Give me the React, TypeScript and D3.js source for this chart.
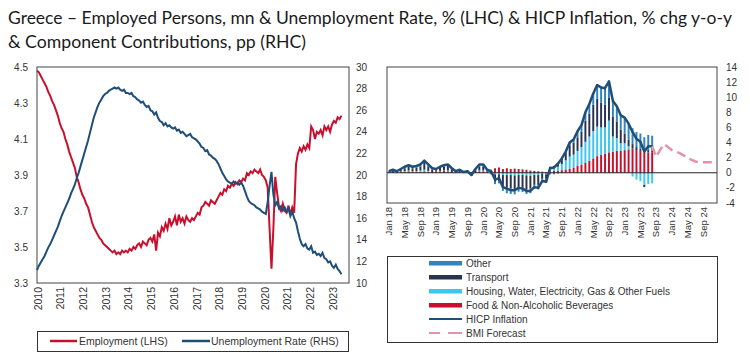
import React from "react";
import * as d3 from "d3";

// ---- left chart data (monthly, Jan 2010 - Jun 2023) ----
const yearLabels = ["2010","2011","2012","2013","2014","2015","2016","2017","2018","2019","2020","2021","2022","2023"];

const employment = [
  4.48, 4.47, 4.45, 4.43, 4.41, 4.39, 4.36, 4.34, 4.31, 4.29, 4.26, 4.23,
  4.19, 4.16, 4.14, 4.10, 4.07, 4.03, 4.00, 3.97, 3.94, 3.89, 3.86, 3.82,
  3.79, 3.77, 3.74, 3.72, 3.68, 3.64, 3.61, 3.59, 3.57, 3.55, 3.54, 3.52,
  3.51, 3.50, 3.49, 3.48, 3.47, 3.48, 3.46, 3.47, 3.46, 3.48, 3.47, 3.48,
  3.47, 3.49, 3.48, 3.50, 3.49, 3.51, 3.52, 3.50, 3.53, 3.52, 3.51, 3.54,
  3.55, 3.53, 3.57, 3.48, 3.58, 3.56, 3.61, 3.59, 3.63, 3.60, 3.66, 3.62,
  3.64, 3.67, 3.62, 3.68, 3.64, 3.66, 3.63, 3.67, 3.65, 3.64, 3.66, 3.65,
  3.67, 3.69, 3.68, 3.72, 3.73, 3.75, 3.74, 3.73, 3.76, 3.75, 3.74, 3.76,
  3.78, 3.80, 3.79, 3.82, 3.81, 3.84, 3.83, 3.85, 3.84, 3.86, 3.85, 3.87,
  3.86, 3.88, 3.87, 3.91, 3.90, 3.92, 3.91, 3.93, 3.92, 3.91, 3.93, 3.90,
  3.89, 3.87, 3.83, 3.60, 3.38, 3.60, 3.89, 3.80, 3.72, 3.70, 3.74, 3.70,
  3.69, 3.73, 3.68, 3.72, 3.69, 3.96, 4.02, 4.05, 4.03, 4.06, 4.04, 4.07,
  4.05, 4.17, 4.15, 4.10, 4.14, 4.13, 4.15, 4.12, 4.17, 4.15, 4.17, 4.14,
  4.18, 4.20, 4.19, 4.22, 4.21, 4.23,
];

const unemployment = [
  11.2, 11.6, 11.9, 12.2, 12.5, 12.9, 13.3, 13.6, 14.0, 14.4, 14.8, 15.2,
  15.7, 16.2, 16.6, 17.0, 17.4, 17.8, 18.3, 18.7, 19.1, 19.7, 20.2, 20.8,
  21.4, 22.0, 22.6, 23.2, 23.9, 24.6, 25.3, 25.8, 26.3, 26.7, 27.0, 27.3,
  27.5, 27.6, 27.8, 27.9, 28.0, 28.1, 28.0, 28.1, 27.9, 27.8, 27.9, 27.6,
  27.6, 27.5, 27.6, 27.3, 27.2, 27.0, 26.9, 26.7, 26.8, 26.5, 26.3, 26.4,
  26.0, 25.9, 25.6, 25.8, 25.3, 25.0, 24.9, 24.6, 24.8, 24.5, 24.6, 24.4,
  24.3, 24.4, 24.1, 24.2, 23.9, 24.0, 23.8, 23.6, 23.7, 23.8, 23.5, 23.4,
  23.3, 23.1, 22.9, 22.6, 22.5, 22.2, 22.3, 21.9, 21.8, 21.6, 21.5, 21.3,
  21.0, 20.6, 20.2, 19.9, 19.6, 19.4, 19.3, 19.2, 19.4, 19.2, 19.3, 19.1,
  19.3, 19.0, 18.5, 18.0, 17.6, 17.4, 17.3, 17.2, 17.0, 16.9, 16.8, 16.6,
  16.5, 16.4, 17.5, 19.0, 20.3, 18.2, 17.2, 17.5, 16.9, 17.1, 16.7, 17.0,
  16.6, 16.9, 16.2, 16.6, 16.0, 15.6, 14.8, 14.1, 13.6, 13.4, 13.6, 13.2,
  13.1, 13.4, 12.8, 12.9, 12.6, 12.7, 12.5, 12.8, 12.3, 12.2, 11.9, 12.0,
  11.6, 11.4, 11.7, 11.3, 11.1, 10.8,
];

// ---- right chart data (monthly, Jan 18 - Aug 23, forecast to Dec 24) ----
const monthNames = ["Jan","Feb","Mar","Apr","May","Jun","Jul","Aug","Sep","Oct","Nov","Dec"];
const rhcYears = ["18","19","20","21","22","23","24"];
const categories = rhcYears.flatMap((y) => monthNames.map((m) => `${m} ${y}`));

const hicp = [
  0.2, 0.4, 0.2, 0.5, 0.8, 1.0, 0.8, 0.9, 1.1, 1.6, 1.1, 0.6,
  0.5, 0.8, 1.0, 1.1, 0.6, 0.2, 0.4, 0.1, 0.2, -0.3, 0.5, 1.1,
  1.1, 0.4, 0.2, -0.9, -0.7, -1.9, -2.1, -2.3, -2.3, -2.0, -2.1, -2.4,
  -2.4, -1.9, -2.0, -1.1, -1.2, 0.6, 0.7, 1.2, 1.9, 2.8, 4.0, 4.4,
  5.5, 6.3, 8.0, 9.1, 10.5, 11.6, 11.3, 11.2, 12.1, 9.5, 8.8, 7.6,
  7.3, 6.5, 5.4, 4.5, 4.1, 2.8, 3.5, 3.5,
];
const food = [
  0.05, 0.1, 0.05, 0.1, 0.15, 0.2, 0.15, 0.1, 0.15, 0.2, 0.15, 0.1,
  0.15, 0.2, 0.25, 0.2, 0.1, 0.05, 0.1, 0.05, 0.05, -0.05, 0.1, 0.2,
  0.2, 0.15, 0.2, 0.6, 0.7, 0.5, 0.6, 0.5, 0.55, 0.5, 0.45, 0.4,
  0.3, 0.25, 0.2, 0.15, 0.1, 0.2, 0.25, 0.3, 0.35, 0.45, 0.55, 0.7,
  0.9, 1.1, 1.3, 1.6, 1.9, 2.2, 2.4, 2.5, 2.7, 2.8, 2.9, 2.9,
  3.0, 3.1, 3.2, 3.0, 2.9, 2.8, 2.7, 2.7,
];
const housing = [
  -0.05, 0.0, -0.05, 0.05, 0.05, 0.1, 0.05, 0.1, 0.15, 0.2, 0.1, 0.0,
  0.0, 0.05, 0.05, 0.1, 0.0, -0.05, 0.0, -0.05, -0.05, -0.1, 0.0, 0.1,
  0.1, 0.0, -0.05, -0.2, -0.2, -0.3, -0.3, -0.3, -0.35, -0.3, -0.3, -0.35,
  -0.4, -0.3, -0.3, -0.1, -0.2, 0.3, 0.35, 0.5, 0.8, 1.2, 1.6, 1.7,
  2.0, 2.3, 2.8, 3.2, 3.6, 3.9, 3.6, 3.5, 4.2, 2.0, 1.7, 1.0,
  0.9, 0.4, -0.5, -0.9, -1.1, -1.6, -1.5, -1.4,
];
const transport = [
  0.1, 0.2, 0.1, 0.25, 0.4, 0.5, 0.4, 0.45, 0.55, 0.9, 0.6, 0.3,
  0.2, 0.4, 0.5, 0.6, 0.35, 0.1, 0.2, 0.0, 0.1, -0.25, 0.25, 0.55,
  0.55, 0.1, -0.15, -1.0, -0.9, -1.5, -1.7, -1.8, -1.8, -1.6, -1.7, -1.8,
  -1.7, -1.3, -1.3, -0.7, -0.6, 0.3, 0.3, 0.5, 0.7, 1.0, 1.5, 1.6,
  1.8, 2.0, 2.8, 3.0, 3.5, 3.7, 3.3, 3.0, 3.0, 2.6, 2.2, 1.8,
  1.3, 0.9, 0.6, 0.4, 0.3, -0.3, 0.3, 0.2,
];
const other = [
  0.1, 0.1, 0.1, 0.1, 0.2, 0.2, 0.2, 0.25, 0.25, 0.3, 0.25, 0.2,
  0.15, 0.15, 0.2, 0.2, 0.15, 0.1, 0.1, 0.1, 0.1, 0.1, 0.15, 0.25,
  0.25, 0.15, 0.2, -0.3, -0.3, -0.6, -0.7, -0.7, -0.7, -0.6, -0.55, -0.65,
  -0.6, -0.55, -0.6, -0.45, -0.5, -0.2, -0.2, -0.1, 0.05, 0.15, 0.35, 0.4,
  0.8, 0.9, 1.1, 1.3, 1.5, 1.8, 2.0, 2.2, 2.2, 2.1, 2.0, 1.9,
  2.1, 2.1, 2.1, 2.0, 2.0, 1.9, 2.0, 2.0,
];
// BMI forecast, Aug 23 - Dec 24
const forecastStart = 67;
const forecast = [3.5, 2.1, 3.0, 3.8, 3.4, 3.0, 2.8, 2.6, 2.3, 2.0, 1.7, 1.5, 1.4, 1.4, 1.4, 1.4, 1.4];

const RED = "#c8102e";
const NAVY = "#1f4e79";
const compKeys = ["food", "housing", "transport", "other"];
const compColors: Record<string, string> = {
  food: "#c8102e",
  housing: "#3cc6f0",
  transport: "#2a3350",
  other: "#2f83bf",
};

const AXIS_FONT = "'Liberation Sans', Arial, sans-serif";

export default function App() {
  // left chart scales
  const xL = d3.scaleLinear().domain([0, 165]).range([37, 349]);
  const yEmp = d3.scaleLinear().domain([3.3, 4.5]).range([283, 67]);
  const yUn = d3.scaleLinear().domain([10, 30]).range([283, 67]);
  const empTicks = d3.range(3.3, 4.51, 0.2);
  const unTicks = d3.range(10, 30.1, 2);

  const empLine = d3.line<number>().x((_, i) => xL(i)).y((d) => yEmp(d));
  const unLine = d3.line<number>().x((_, i) => xL(i)).y((d) => yUn(d));

  // right chart scales
  const xB = d3.scaleBand<string>().domain(categories).range([387, 717]).paddingInner(0.5).paddingOuter(0.25);
  const yB = d3.scaleLinear().domain([-4, 14]).range([203, 67]);
  const bTicks = d3.range(-4, 14.1, 2);
  const cx = (i: number) => (xB(categories[i]) ?? 0) + xB.bandwidth() / 2;

  const rows = hicp.map((_, i) => ({
    food: food[i], housing: housing[i], transport: transport[i], other: other[i],
  }));
  const stacked = d3.stack<any>().keys(compKeys).offset(d3.stackOffsetDiverging)(rows);

  const hicpLine = d3.line<number>().x((_, i) => cx(i)).y((d) => yB(d));
  const fcLine = d3.line<number>().x((_, i) => cx(i + forecastStart)).y((d) => yB(d));

  const rightLegend = [
    { label: "Other", kind: "bar", color: compColors.other },
    { label: "Transport", kind: "bar", color: compColors.transport },
    { label: "Housing, Water, Electricity, Gas & Other Fuels", kind: "bar", color: compColors.housing },
    { label: "Food & Non-Alcoholic Beverages", kind: "bar", color: compColors.food },
    { label: "HICP Inflation", kind: "line", color: NAVY },
    { label: "BMI Forecast", kind: "dash", color: "#e393aa" },
  ];

  return (
    <svg width={750} height={359} style={{ position: "absolute", left: 0, top: 0, background: "#fff" }}>
      {/* title */}
      <g fontFamily="Lato, sans-serif" fontSize={17} fill="#1a1a1a">
        <text x={8} y={24} textLength={724} lengthAdjust="spacingAndGlyphs">
          Greece – Employed Persons, mn &amp; Unemployment Rate, % (LHC) &amp; HICP Inflation, % chg y-o-y
        </text>
        <text x={8} y={48} textLength={298} lengthAdjust="spacingAndGlyphs">
          &amp; Component Contributions, pp (RHC)
        </text>
      </g>

      {/* ---- left chart ---- */}
      <g fontFamily={AXIS_FONT} fontSize={10} fill="#333">
        {empTicks.map((t) => (
          <text key={"e" + t} x={28} y={yEmp(t)} dy="0.35em" textAnchor="end">{t.toFixed(1)}</text>
        ))}
        {unTicks.map((t) => (
          <text key={"u" + t} x={356} y={yUn(t)} dy="0.35em">{t}</text>
        ))}
        {yearLabels.map((y, i) => (
          <text key={y} transform={`translate(${xL(i * 12) + 1},287) rotate(-90)`} dy="0.35em" textAnchor="end" fontSize={10.5}>{y}</text>
        ))}
      </g>
      <path d={empLine(employment) ?? ""} fill="none" stroke={RED} strokeWidth={2} />
      <path d={unLine(unemployment) ?? ""} fill="none" stroke={NAVY} strokeWidth={2} />
      <rect x={37} y={67} width={312} height={216} fill="none" stroke="#444" strokeWidth={1} />

      {/* left legend */}
      <rect x={37.5} y={331.5} width={311} height={20} fill="none" stroke="#333" strokeWidth={1} />
      <g fontFamily={AXIS_FONT} fontSize={10.5} fill="#333">
        <line x1={50} x2={77} y1={341} y2={341} stroke={RED} strokeWidth={2.5} />
        <text x={79} y={341} dy="0.35em">Employment (LHS)</text>
        <line x1={182} x2={210} y1={341} y2={341} stroke={NAVY} strokeWidth={2.5} />
        <text x={211} y={341} dy="0.35em">Unemployment Rate (RHS)</text>
      </g>

      {/* ---- right chart ---- */}
      {stacked.map((s) => (
        <g key={s.key} fill={compColors[s.key]}>
          {s.map((d, i) => (
            <rect
              key={i}
              x={xB(categories[i])}
              width={xB.bandwidth()}
              y={yB(Math.max(d[0], d[1]))}
              height={Math.abs(yB(d[0]) - yB(d[1]))}
            />
          ))}
        </g>
      ))}
      <line x1={387} x2={717} y1={yB(0)} y2={yB(0)} stroke="#222" strokeWidth={1} />
      <path d={hicpLine(hicp) ?? ""} fill="none" stroke={NAVY} strokeWidth={2.5} strokeLinejoin="round" />
      <path d={fcLine(forecast) ?? ""} fill="none" stroke="#e393aa" strokeWidth={2.5} strokeDasharray="9 5" />
      <rect x={387} y={67} width={330} height={136} fill="none" stroke="#444" strokeWidth={1} />
      <g fontFamily={AXIS_FONT} fontSize={10} fill="#333">
        {bTicks.map((t) => (
          <text key={"b" + t} x={726} y={yB(t)} dy="0.35em">{t}</text>
        ))}
        {categories.map((c, i) =>
          i % 4 === 0 && i <= 80 ? (
            <text key={c} transform={`translate(${cx(i)},207) rotate(-90)`} dy="0.35em" textAnchor="end" fontSize={9.5}>{c}</text>
          ) : null
        )}
      </g>

      {/* right legend */}
      <rect x={387.5} y={256.5} width={330} height={86} fill="none" stroke="#333" strokeWidth={1} />
      <g fontFamily={AXIS_FONT} fontSize={10} fill="#333">
        {rightLegend.map((it, i) => {
          const y = 263 + i * 14;
          return (
            <g key={it.label}>
              {it.kind === "bar" && <rect x={429} y={y - 2} width={33} height={4.5} fill={it.color} />}
              {it.kind === "line" && <line x1={429} x2={462} y1={y} y2={y} stroke={it.color} strokeWidth={2} />}
              {it.kind === "dash" && (
                <>
                  <line x1={429} x2={440} y1={y} y2={y} stroke={it.color} strokeWidth={2} />
                  <line x1={448} x2={462} y1={y} y2={y} stroke={it.color} strokeWidth={2} />
                </>
              )}
              <text x={466} y={y} dy="0.35em">{it.label}</text>
            </g>
          );
        })}
      </g>
    </svg>
  );
}
